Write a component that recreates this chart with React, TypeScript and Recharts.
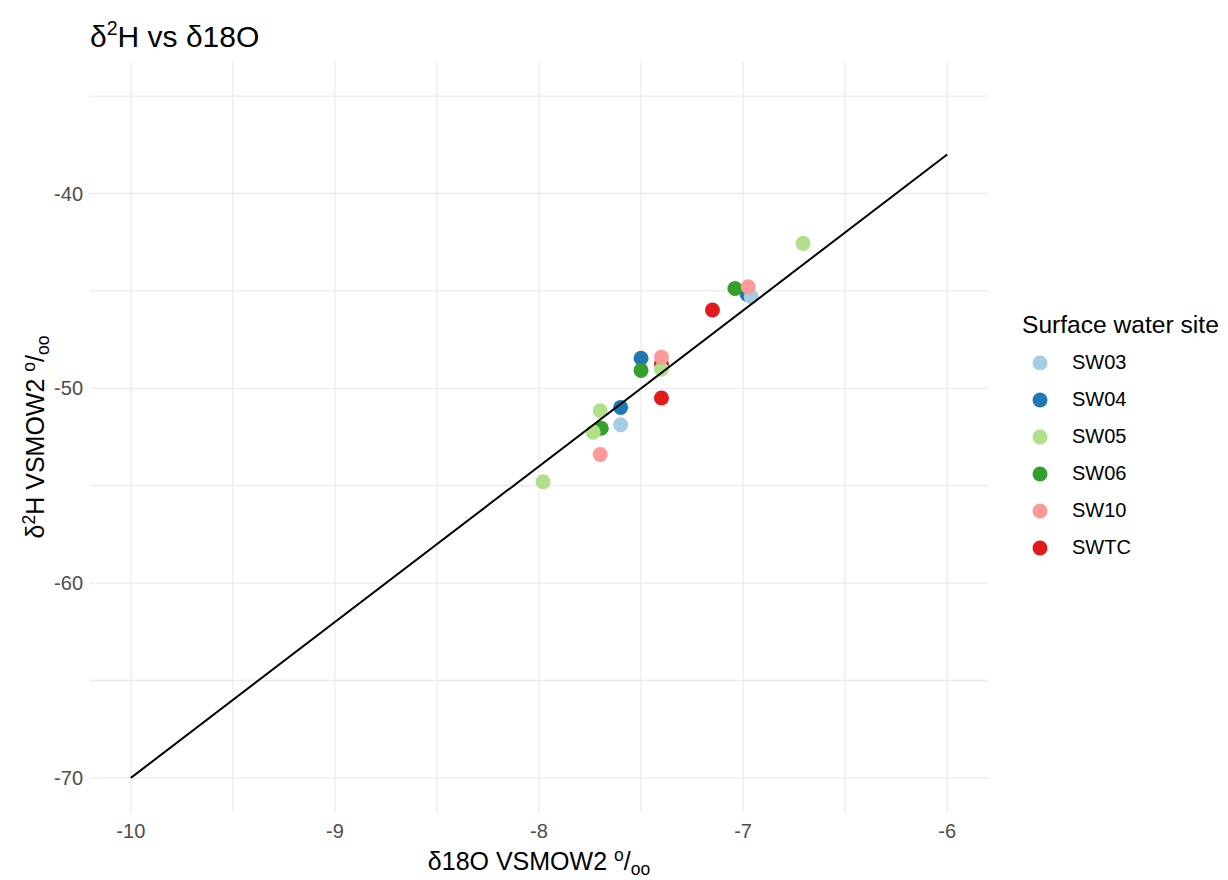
import React from 'react';
import { ScatterChart, Scatter, XAxis, YAxis, CartesianGrid } from 'recharts';

const FONT = '"Liberation Sans", Arial, sans-serif';

const siteNames = ['SW03', 'SW04', 'SW05', 'SW06', 'SW10', 'SWTC'];
const siteColors = ['#A6CEE3', '#1F78B4', '#B2DF8A', '#33A02C', '#FB9A99', '#E31A1C'];

const sw03 = [
  { x: -6.96, y: -45.3 },
  { x: -7.6, y: -51.87 },
];
const sw04 = [
  { x: -6.98, y: -45.17 },
  { x: -7.5, y: -48.46 },
  { x: -7.6, y: -50.98 },
];
const sw05 = [
  { x: -6.706, y: -42.56 },
  { x: -7.4, y: -49.02 },
  { x: -7.7, y: -51.15 },
  { x: -7.735, y: -52.25 },
  { x: -7.98, y: -54.8 },
];
const sw06 = [
  { x: -7.04, y: -44.88 },
  { x: -7.5, y: -49.08 },
  { x: -7.695, y: -52.05 },
];
const sw10 = [
  { x: -6.975, y: -44.79 },
  { x: -7.4, y: -48.4 },
  { x: -7.7, y: -53.4 },
];
const swtc = [
  { x: -7.15, y: -45.98 },
  { x: -7.4, y: -48.75 },
  { x: -7.4, y: -50.5 },
];

const seriesData: Record<string, { x: number; y: number }[]> = {
  SW03: sw03,
  SW04: sw04,
  SW05: sw05,
  SW06: sw06,
  SW10: sw10,
  SWTC: swtc,
};
const drawOrder = ['SWTC', 'SW04', 'SW03', 'SW06', 'SW05', 'SW10'];

const gmwl = [
  { x: -10, y: -70 },
  { x: -6, y: -38 },
];

const xDomain = [-10.2, -5.8];
const yDomain = [-71.75, -33.25];
const xTicks = [-10, -9.5, -9, -8.5, -8, -7.5, -7, -6.5, -6];
const yTicks = [-70, -65, -60, -55, -50, -45, -40, -35];

const tickStyle = { fill: '#4D4D4D', fontSize: 20, fontFamily: FONT };

const fmtX = (v: number) => (Number.isInteger(v) ? String(v) : '');
const fmtY = (v: number) => (v % 10 === 0 ? String(v) : '');

const supStyle = { fontSize: '0.7em', verticalAlign: '0.5em', lineHeight: 0 } as const;
const subStyle = { fontSize: '0.7em', verticalAlign: '-0.3em', lineHeight: 0 } as const;

export default function App() {
  return (
    <div style={{ position: 'relative', width: 1212, height: 872, fontFamily: FONT, background: '#fff' }}>
      <ScatterChart
        width={1212}
        height={872}
        margin={{ top: 54, right: 232, left: 22, bottom: 38 }}
        style={{ fontFamily: FONT }}
      >
        <CartesianGrid stroke="#EBEBEB" strokeWidth={1.3} syncWithTicks />
        <XAxis
          type="number"
          dataKey="x"
          domain={xDomain}
          allowDataOverflow
          ticks={xTicks}
          tickFormatter={fmtX}
          axisLine={false}
          tickLine={false}
          tickSize={0}
          tickMargin={12}
          height={30}
          tick={tickStyle}
          interval={0}
        />
        <YAxis
          type="number"
          dataKey="y"
          domain={yDomain}
          allowDataOverflow
          ticks={yTicks}
          tickFormatter={fmtY}
          axisLine={false}
          tickLine={false}
          tickSize={0}
          tickMargin={7}
          width={60}
          tick={tickStyle}
          interval={0}
        />
        {drawOrder.map((name) => {
          const color = siteColors[siteNames.indexOf(name)];
          return (
            <Scatter
              key={name}
              name={name}
              data={seriesData[name]}
              isAnimationActive={false}
              shape={(p: any) => <circle cx={p.cx} cy={p.cy} r={7.5} fill={color} />}
            />
          );
        })}
        <Scatter
          name="GMWL"
          data={gmwl}
          isAnimationActive={false}
          line={{ stroke: '#000000', strokeWidth: 2 }}
          shape={() => <g />}
        />
      </ScatterChart>

      {/* Title */}
      <div style={{ position: 'absolute', left: 82, top: 14, fontSize: 30, color: '#000', whiteSpace: 'nowrap', lineHeight: 1 }}>
        δ<sup style={{ fontSize: '0.65em', verticalAlign: '0.6em', lineHeight: 0 }}>2</sup>H vs δ18O
      </div>

      {/* X axis title */}
      <div
        style={{
          position: 'absolute',
          left: 531,
          top: 841,
          transform: 'translateX(-50%)',
          fontSize: 25,
          color: '#000',
          whiteSpace: 'nowrap',
          lineHeight: 1,
        }}
      >
        δ18O VSMOW2 <sup style={supStyle}>o</sup>/<sub style={subStyle}>oo</sub>
      </div>

      {/* Y axis title */}
      <div
        style={{
          position: 'absolute',
          left: 27,
          top: 429,
          transform: 'translate(-50%, -50%) rotate(-90deg)',
          fontSize: 25,
          color: '#000',
          whiteSpace: 'nowrap',
          lineHeight: 1,
        }}
      >
        δ<sup style={supStyle}>2</sup>H VSMOW2 <sup style={supStyle}>o</sup>/<sub style={subStyle}>oo</sub>
      </div>

      {/* Legend */}
      <div style={{ position: 'absolute', left: 1014, top: 303 }}>
        <div style={{ fontSize: 24.6, color: '#000', whiteSpace: 'nowrap', lineHeight: '28px' }}>Surface water site</div>
        <div style={{ marginTop: 5 }}>
          {siteNames.map((name, i) => (
            <div key={name} style={{ display: 'flex', alignItems: 'center', height: 37 }}>
              <svg width={34} height={20} style={{ display: 'block' }}>
                <circle cx={18} cy={10} r={7.5} fill={siteColors[i]} />
              </svg>
              <span style={{ fontSize: 20, color: '#000', marginLeft: 16, whiteSpace: 'nowrap' }}>{name}</span>
            </div>
          ))}
        </div>
      </div>
    </div>
  );
}
